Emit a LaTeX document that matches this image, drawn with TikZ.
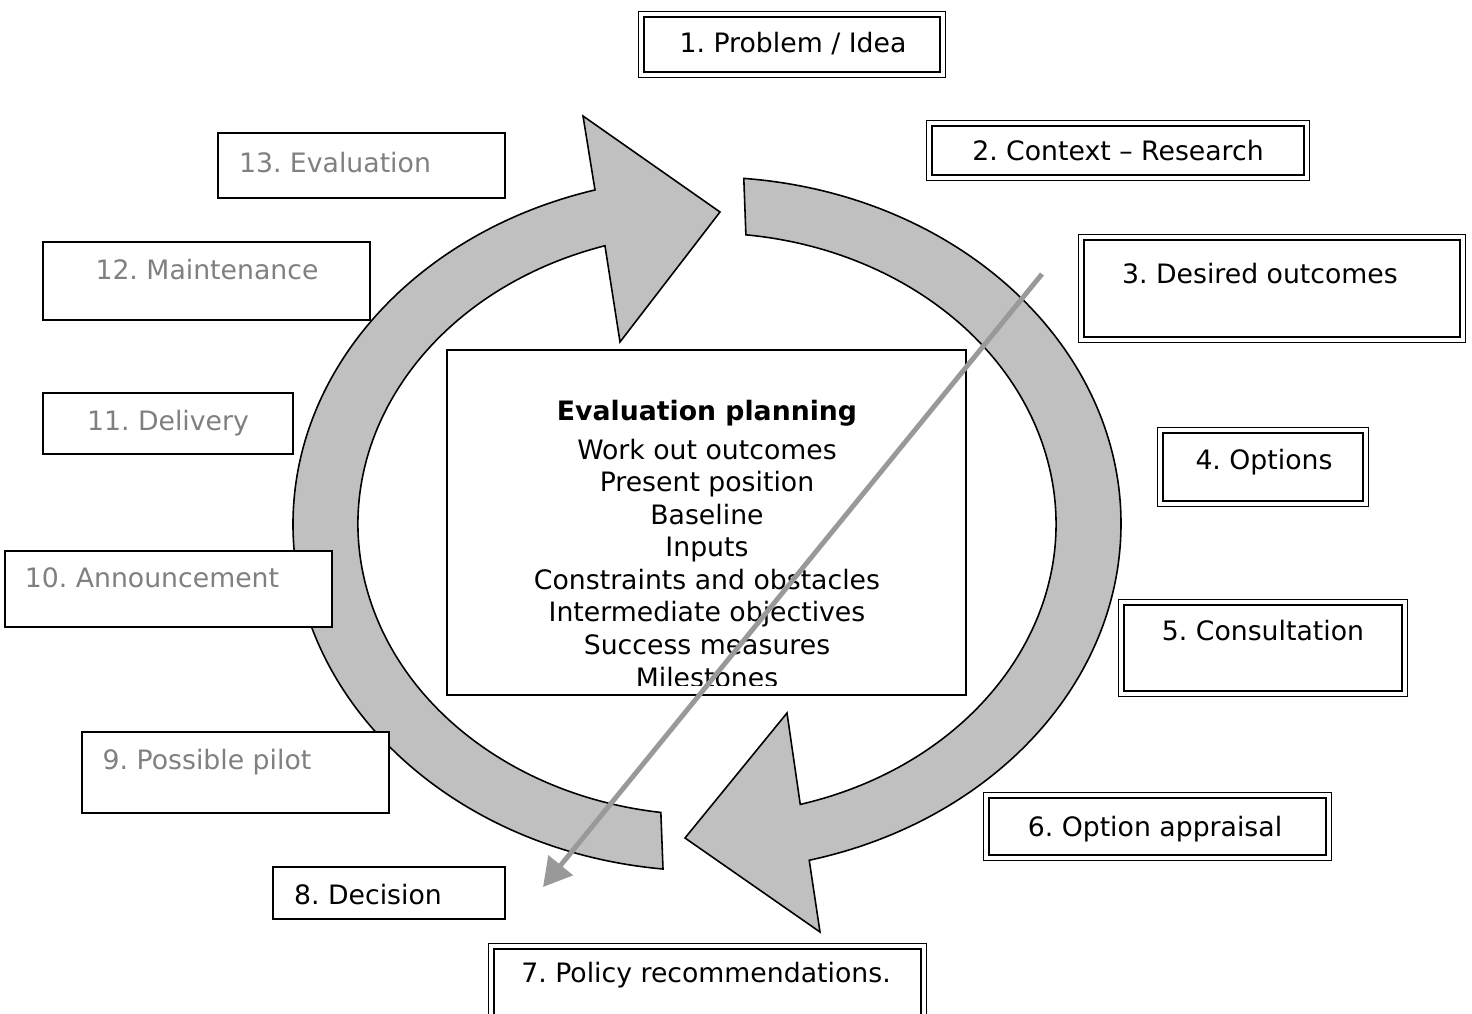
\documentclass[tikz,border=0pt]{standalone}
\usepackage{fontspec}
\setmainfont{DejaVu Sans}
\usetikzlibrary{calc,arrows.meta}

\definecolor{ringgray}{HTML}{C0C0C0}
\definecolor{linegray}{HTML}{999999}
\definecolor{textgray}{HTML}{808080}

\begin{document}
\frenchspacing
\begin{tikzpicture}[x = {(0.02cm,0cm)},
  y = {(0cm,-0.02cm)},
  ring/.style={fill=ringgray, draw=black, line width=0.9pt},
  stageouter/.style={draw=black, fill=white, line width=0.7pt},
  stageinner/.style={draw=black, line width=1.4pt},
  laterbox/.style={draw=black, fill=white, line width=0.6pt},
  stagetext/.style={font=\fontsize{15.2}{18.5}\selectfont, inner sep=0pt,
    text height=11.1pt, text depth=0pt},
  latertext/.style={stagetext, text=textgray},
  pointer/.style={draw=linegray, line width=2.8pt,
    -{Triangle[length=16pt,width=17.5pt]}}]

  \useasboundingbox (0,0) rectangle (1472,1014);

  % ring centre and radii
  \coordinate (c) at (707,524);
  \def\rxo{414}
  \def\ryo{347}
  \def\rxi{349}
  \def\ryi{291}

  % left arrow (bottom -> top)
  \filldraw[ring] ($(c)+(96.1:{\rxo} and {\ryo})$)
  arc[start angle=96.1, end angle=254.3, x radius=\rxo, y radius=\ryo]
  -- (583,116) -- (720,212) -- (620,342)
  -- ($(c)+(253:{\rxi} and {\ryi})$)
  arc[start angle=253, end angle=97.6, x radius=\rxi, y radius=\ryi] -- cycle;

  % right arrow (top -> bottom)
  \filldraw[ring] ($(c)+(-84.9:{\rxo} and {\ryo})$)
  arc[start angle=-84.9, end angle=75.7, x radius=\rxo, y radius=\ryo]
  -- (820,932) -- (685,838) -- (787,713)
  -- ($(c)+(74.5:{\rxi} and {\ryi})$)
  arc[start angle=74.5, end angle=-83.6, x radius=\rxi, y radius=\ryi] -- cycle;

  % evaluation planning
  \draw[fill=white, line width=0.9pt] (447,350) rectangle (966,695);
  \begin{scope}
    \clip (447,350) rectangle (966,685);
    \node[font=\fontsize{15.2}{18.5}\selectfont, align=center, inner sep=0pt,
      anchor=north] (plan) at (707,400)
    {\textbf{Evaluation planning}\\[3.6pt]
      Work out outcomes\\
      Present position\\
      Baseline\\
      Inputs\\
      Constraints and obstacles\\
      Intermediate objectives\\
      Success measures\\
      Milestones};
  \end{scope}

  % single frames
  \foreach \xa/\ya/\xb/\yb in {273/867/505/919, 82/732/389/813,
    5/551/332/627, 43/393/293/454, 43/242/370/320, 218/133/505/198}
  \draw[laterbox] (\xa,\ya) rectangle (\xb,\yb);

  % double frames, thin outside, thick inside
  \foreach \xa/\ya/\xb/\yb in {638/11/946/78, 926/120/1310/181,
    1078/234/1466/343, 1157/427/1369/507, 1118/599/1408/697,
    983/792/1332/861, 488/943/927/1040}
  {
  \draw[stageouter] (\xa+0.6,\ya+0.6) rectangle (\xb-0.6,\yb-0.6);
  \draw[stageinner] (\xa+6,\ya+6) rectangle (\xb-6,\yb-6);
  }

  % stage labels
  \node[stagetext] (s1) at (793,43) {1. Problem / Idea};
  \node[stagetext] (s2) at (1118,151) {2. Context -- Research};
  \node[stagetext] (s3) at (1260,274) {3. Desired outcomes};
  \node[stagetext] (s4) at (1264,460) {4. Options};
  \node[stagetext] (s5) at (1263,631) {5. Consultation};
  \node[stagetext] (s6) at (1155,827) {6. Option appraisal};
  \node[stagetext] (s7) at (706,973) {7. Policy recommendations.};
  \node[stagetext] (s8) at (368,895) {8. Decision};
  \node[latertext] (s9) at (207,760) {9. Possible pilot};
  \node[latertext] (s10) at (152,578) {10. Announcement};
  \node[latertext] (s11) at (168,421) {11. Delivery};
  \node[latertext] (s12) at (207,270) {12. Maintenance};
  \node[latertext] (s13) at (335,163) {13. Evaluation};

  % grey pointer
  \coordinate (pstart) at (1042,274);
  \coordinate (pend) at (543,887);
  \draw[pointer] (pstart) -- (pend);

\end{tikzpicture}
\end{document}
